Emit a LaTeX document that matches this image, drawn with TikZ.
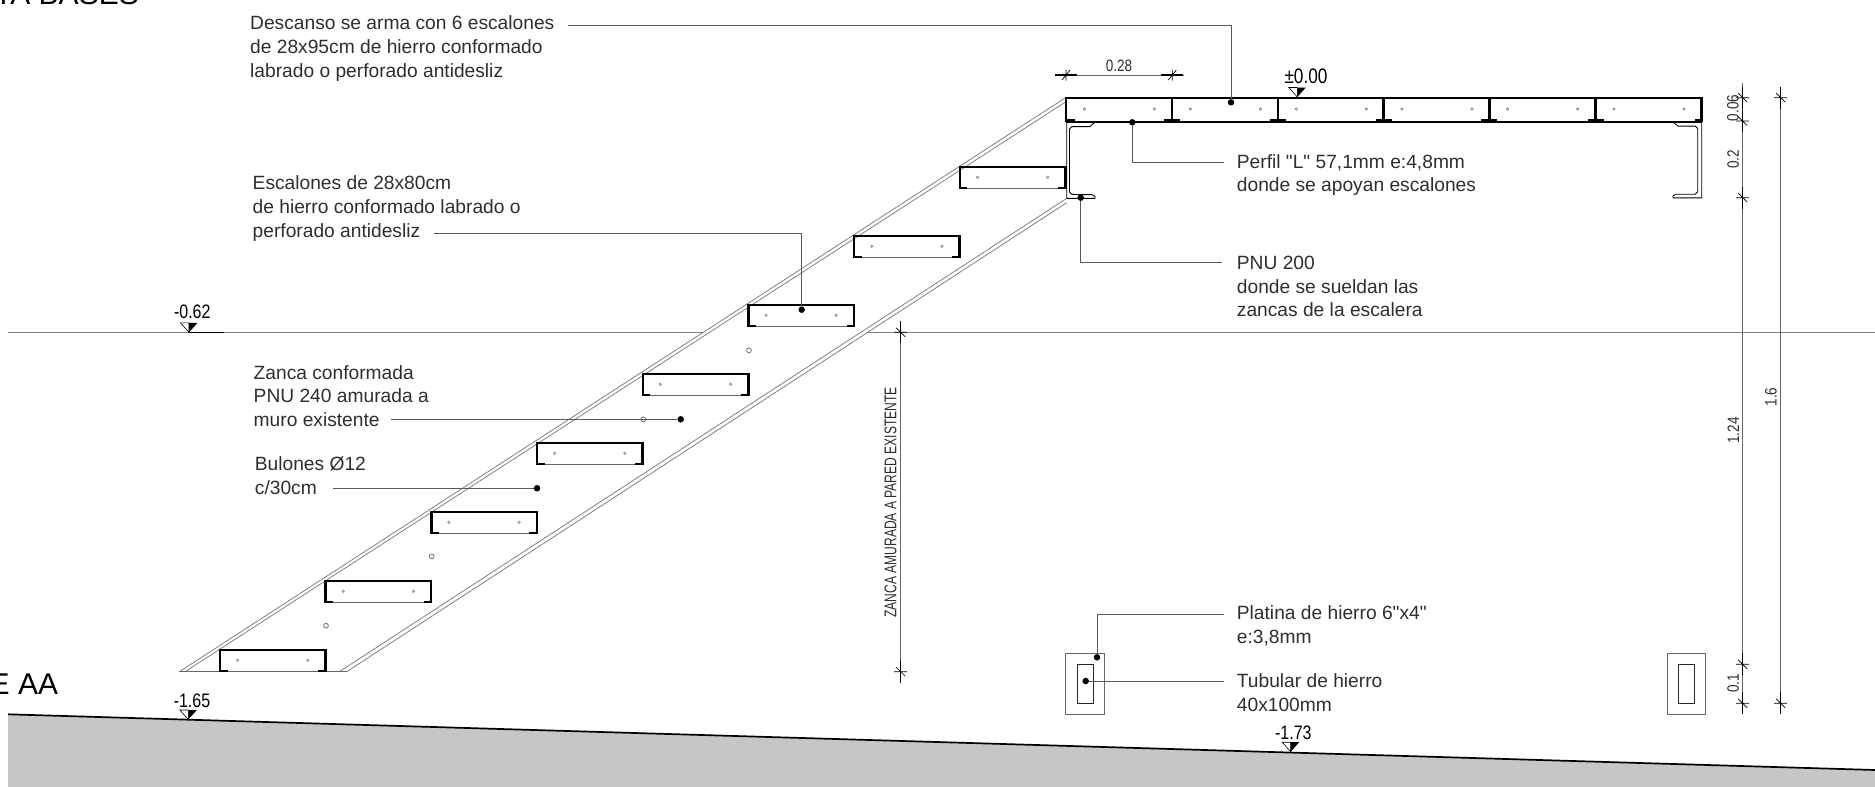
\documentclass[tikz,border=0pt]{standalone}
\usepackage{fontspec}
\setmainfont{Liberation Sans}
\newfontfamily\notafont{Liberation Sans}
\newfontfamily\narrowfont[FakeStretch=0.82]{Liberation Sans}
\newfontfamily\zancafont[FakeStretch=0.71]{Liberation Sans}
\definecolor{suelo}{HTML}{C6C6C6}
\definecolor{tinta}{HTML}{2E2E2E}

\tikzset{
  nota/.style={anchor=west,inner sep=0pt,align=left,text=tinta,
    font=\notafont\fontsize{19.2}{23.8}\selectfont},
  cota/.style={inner sep=0pt,text=tinta,font=\narrowfont\fontsize{16.5}{18}\selectfont},
  nivel/.style={inner sep=0pt,text=black,font=\narrowfont\fontsize{19.5}{20}\selectfont},
  titulo/.style={anchor=east,inner sep=0pt,text=black,font=\fontsize{30}{34}\selectfont},
  punto/.style={circle,fill=black,inner sep=0pt,minimum size=6.5pt},
  guia/.style={draw=black!65,line width=.9pt},
  chapa/.style={draw=black,line width=2.5pt},
  fino/.style={draw=black!60,line width=.8pt},
  zanca/.style={draw=black!50,line width=.8pt},
  hueco/.style={draw=black!45,line width=.7pt},
  medida/.style={draw=black!60,line width=.9pt},
  marca/.style={draw=black,line width=.7pt},
  perfil/.style={draw=black,line width=.9pt,line join=round},
}

\newcommand{\escalon}[2]{
  \draw[fino] (#1,#2+21.7) -- ++(105.5,0);
  \draw[chapa] (#1,#2+21.7) -- ++(0,-21.7) -- ++(105.5,0) -- ++(0,21.7);
  \draw[chapa] (#1,#2+21) -- ++(7.5,0) (#1+105.5,#2+21) -- ++(-7.5,0);
  \draw[hueco] (#1+17.5,#2+10.3) circle (1.2) (#1+87.7,#2+10.3) circle (1.2);
}
\newcommand{\peldano}[1]{
  \draw[chapa,line width=2.8pt] (#1,98) -- ++(0,22);
  \draw[chapa,line width=2.2pt] (#1-8,120) -- ++(16,0);
  \draw[hueco] (#1+18.3,109) circle (1.2) (#1+88.3,109) circle (1.2);
}
\newcommand{\bulon}[2]{
  \draw[hueco,draw=black!55,line width=.8pt] (#1,#2) circle (2.4);
}
\newcommand{\marcav}[2]{
  \draw[marca,line width=1.1pt] (#1,#2-11) -- ++(0,22);
  \draw[marca] (#1-6.5,#2) -- ++(13,0) (#1-4.5,#2-4.5) -- ++(9,9);
}
\newcommand{\marcah}[2]{
  \draw[marca,line width=1.1pt] (#1-11,#2) -- ++(22,0);
  \draw[marca] (#1,#2-5.5) -- ++(0,11) (#1-4,#2+5) -- ++(8,-10);
}
\newcommand{\triangulo}[2]{
  \draw[fill=white,line width=.6pt] (#1,#2) -- ++(-8.5,-9.5) -- ++(8.5,0) -- cycle;
  \fill[black] (#1,#2) -- ++(8.5,-9.5) -- ++(-8.5,0) -- cycle;
}
\newcommand{\placa}[2]{
  \draw[fino] (#1,653.5) rectangle (#1+38.5,714);
  \draw[draw=black!85,line width=.8pt] (#1+11.4,664.7) rectangle (#2,703);
}

\begin{document}
\begin{tikzpicture}[x=1pt,y=-1pt]
  \useasboundingbox (0,0) rectangle (1875,787);
  \clip (0,0) rectangle (1875,787);

  % terreno
  \fill[suelo] (8,714.3) -- (1875,770) -- (1875,787) -- (8,787) -- cycle;
  \draw[black,line width=1.7pt] (8,714.3) -- (1875,770);

  % linea de nivel
  \draw[zanca] (8,332.4) -- (703,332.4);
  \draw[zanca] (868,332.4) -- (1875,332.4);
  \draw[black,line width=1.1pt] (189,332.4) -- (224,332.4);

  % zanca
  \draw[zanca] (179.3,671.7) -- (1065.5,97.7);
  \draw[zanca] (185,671.7) -- (1066,101.7);
  \draw[zanca] (339.3,671.7) -- (1066.7,198.3);
  \draw[zanca] (346.7,671.7) -- (1066.7,202.7);
  \draw[fino] (179.3,671.7) -- (346.7,671.7);

  \bulon{326}{625.7}
  \bulon{431.7}{556.4}
  \bulon{537}{488}
  \bulon{643.3}{419.3}
  \bulon{749}{350.3}

  \escalon{220}{650}
  \escalon{325.7}{581}
  \escalon{431.4}{512}
  \escalon{537.1}{443}
  \escalon{642.8}{374}
  \escalon{748.5}{305}
  \escalon{854.2}{236}
  \escalon{959.9}{167}

  % descanso
  \draw[chapa] (1066,121.5) -- (1066,98) -- (1701.5,98) -- (1701.5,121.5);
  \draw[black,line width=1.8pt] (1066,121.7) -- (1701.5,121.7);
  \draw[chapa] (1066,120) -- ++(9,0) (1701.5,120) -- ++(-7,0);
  \draw[hueco] (1084.3,109) circle (1.2);
  \peldano{1172}
  \peldano{1278}
  \peldano{1383.5}
  \peldano{1489.3}
  \peldano{1595.7}
  \draw[hueco] (1154.3,109) circle (1.2);

  % perfiles PNU
  \draw[perfil] (1066.7,122) -- (1066.7,198.3) -- (1095,198.3) -- ++(0,-2) -- ++(-3,-1.6)
    -- (1072,194.4) -- ++(-2.5,-2.5) -- (1069.5,129) -- ++(2.5,-2.4) -- (1090,126.6) -- (1095,122);
  \draw[perfil] (1701.7,122) -- (1701.7,197.8) -- (1673,197.8) -- ++(0,-2) -- ++(3,-1.6)
    -- (1695.2,194.2) -- ++(2.5,-2.5) -- (1697.7,128.5) -- ++(-2.5,-2.4) -- (1678,126.1) -- (1673,122);

  % placas de apoyo
  \placa{1065.7}{1093}
  \placa{1667}{1694.7}

  % textos de borde
  \node[titulo] (planta) at (139,-6) {TA BASES};
  \node[titulo] (corte) at (58.3,684) {E AA};

  % llamadas
  \node[nota] (descansotxt) at (250,48.5)
    {Descanso se arma con 6 escalones\\de 28x95cm de hierro conformado\\labrado o perforado antidesliz};
  \coordinate (descansoc) at (568,25);
  \node[punto] (descansop) at (1231,102.3) {};
  \draw[guia] (descansoc) -| (descansop);

  \node[nota] (escalontxt) at (252.5,208.5)
    {Escalones de 28x80cm\\de hierro conformado labrado o\\perforado antidesliz};
  \coordinate (escalonc) at (434,233);
  \node[punto] (escalonp) at (801.7,309.7) {};
  \draw[guia] (escalonc) -| (escalonp);

  \node[nota] (zancatxt) at (253.5,396)
    {Zanca conformada\\PNU 240 amurada a\\muro existente};
  \coordinate (zancac) at (391,419.3);
  \node[punto] (zancap) at (680.7,419.3) {};
  \draw[guia] (zancac) -- (zancap);

  \node[nota] (bulontxt) at (254.7,476) {Bulones Ø12\\c/30cm};
  \coordinate (bulonc) at (332.5,488.3);
  \node[punto] (bulonp) at (537,488.3) {};
  \draw[guia] (bulonc) -- (bulonp);

  \node[nota] (perfiltxt) at (1236.7,175)
    {Perfil "L" 57,1mm e:4,8mm\\donde se apoyan escalones};
  \coordinate (perfilc) at (1224.3,162.7);
  \node[punto] (perfilp) at (1132.3,122.3) {};
  \draw[guia] (perfilc) -| (perfilp);

  \node[nota] (pnutxt) at (1236.7,286.5)
    {PNU 200\\donde se sueldan las\\zancas de la escalera};
  \coordinate (pnuc) at (1222,262.5);
  \node[punto] (pnup) at (1080.7,197.7) {};
  \draw[guia] (pnuc) -| (pnup);

  \node[nota] (platinatxt) at (1236.7,625.5) {Platina de hierro 6"x4"\\e:3,8mm};
  \coordinate (platinac) at (1224.3,614);
  \node[punto] (platinap) at (1097,657.3) {};
  \draw[guia] (platinac) -| (platinap);

  \node[nota] (tubulartxt) at (1236.7,693) {Tubular de hierro\\40x100mm};
  \coordinate (tubularc) at (1224.3,681);
  \node[punto] (tubularp) at (1085.7,681) {};
  \draw[guia] (tubularc) -- (tubularp);

  % cotas
  \draw[medida] (1055.7,75) -- (1184.3,75);
  \marcah{1066}{75}
  \marcah{1172.3}{75}
  \node[cota] (c028) at (1119,65.7) {0.28};

  \draw[medida] (1742.7,82.7) -- (1742.7,714.3);
  \marcav{1742.7}{97.7}
  \marcav{1742.7}{121}
  \marcav{1742.7}{197.7}
  \marcav{1742.7}{664.3}
  \marcav{1742.7}{703.3}
  \node[cota,rotate=90] (c006) at (1733,108) {0.06};
  \node[cota,rotate=90] (c02) at (1733.3,159.3) {0.2};
  \node[cota,rotate=90] (c124) at (1733.3,430.5) {1.24};
  \node[cota,rotate=90] (c01) at (1733.3,683.3) {0.1};

  \draw[medida] (1780.7,86.7) -- (1780.7,714.3);
  \marcav{1780.7}{97.7}
  \marcav{1780.7}{703.3}
  \node[cota,rotate=90] (c16) at (1771,397) {1.6};

  \draw[medida] (900.7,320.7) -- (900.7,683);
  \marcav{900.7}{332.3}
  \marcav{900.7}{671.7}
  \node[cota,rotate=90,font=\zancafont\fontsize{17}{18}\selectfont] (zancaexist) at (890.5,502.5)
    {ZANCA AMURADA A PARED EXISTENTE};

  % niveles
  \triangulo{189}{332.4}
  \node[nivel] (n062) at (192.3,311.7) {-0.62};
  \triangulo{188.3}{719.5}
  \node[nivel] (n165) at (192,700.7) {-1.65};
  \triangulo{1290.7}{751.7}
  \node[nivel] (n173) at (1293.3,732.3) {-1.73};
  \triangulo{1297.3}{97}
  \node[nivel,font=\narrowfont\fontsize{21}{22}\selectfont] (n000) at (1306,76.7) {±0.00};
\end{tikzpicture}
\end{document}
